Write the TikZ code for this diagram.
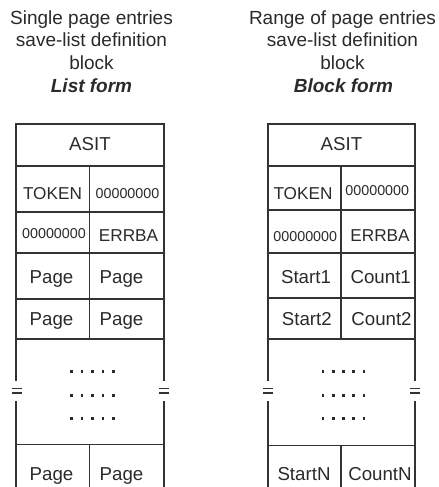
\documentclass[tikz,border=0pt]{standalone}
\usepackage{fontspec}
\setmainfont{Liberation Sans}
\definecolor{ink}{HTML}{2A2A2A}
\definecolor{rule}{HTML}{333333}
\begin{document}
\begin{tikzpicture}[x=1bp,y=-1bp,
  grid/.style={draw=rule, line width=1.9bp, line join=miter},
  brk/.style={draw=rule, line width=1.6bp},
  ttl/.style={anchor=base, inner sep=0pt, text=ink, font=\fontsize{19bp}{22bp}\selectfont},
  lbl/.style={anchor=base, inner sep=0pt, text=ink, font=\fontsize{18.7bp}{22bp}\selectfont},
  mid/.style={anchor=base, inner sep=0pt, text=ink, font=\fontsize{17.2bp}{20bp}\selectfont},
  zer/.style={anchor=base, inner sep=0pt, text=ink, font=\fontsize{14.3bp}{17bp}\selectfont}]
\useasboundingbox (0,0) rectangle (439,487);

% ---------- titles ----------
\node[ttl] (l1) at (91.5,24.5) {Single page entries};
\node[ttl] (l2) at (91.5,47) {save-list definition};
\node[ttl] (l3) at (91.5,69.5) {block};
\node[ttl] (l4) at (91.5,92.5) {\bfseries\itshape List form};
\node[ttl] (r1) at (342.5,24.5) {Range of page entries};
\node[ttl] (r2) at (342.5,47) {save-list definition};
\node[ttl] (r3) at (342.5,69.5) {block};
\node[ttl] (r4) at (343.5,92.5) {\bfseries\itshape Block form};

% ---------- left table ----------
\draw[grid] (16,381) -- (16,124) -- (164,124) -- (164,381);
\draw[grid] (16,401) -- (16,487);
\draw[grid] (164,401) -- (164,487);
\foreach \y in {166,212,253,299,339,444.5} \draw[grid] (16,\y) -- (164,\y);
\draw[grid] (89.5,166) -- (89.5,339);
\draw[grid] (89.5,444.5) -- (89.5,487);
\foreach \x in {16.5,163.5} {
  \draw[brk] (\x-5,388.5) -- (\x+5,388.5);
  \draw[brk] (\x-5,393) -- (\x+5,393);
}
\node[lbl] (la) at (90,151) {ASIT};
\node[mid] (lt) at (52.5,199.3) {TOKEN};
\node[zer] (lz1) at (127.5,198.3) {00000000};
\node[zer] (lz2) at (54,238.5) {00000000};
\node[mid] (le) at (128.5,241) {ERRBA};
\node[lbl] (lp1) at (51.5,283.3) {Page};
\node[lbl] (lp2) at (121.5,283.3) {Page};
\node[lbl] (lp3) at (51.5,325) {Page};
\node[lbl] (lp4) at (121.5,325) {Page};
\node[lbl] (lp5) at (51.5,480) {Page};
\node[lbl] (lp6) at (121.5,480) {Page};
\foreach \r in {371.7,395.7,418.3}
  \foreach \k in {0,...,4}
    \fill[ink] ({71.3+10.6*\k-1.3},{\r-1.3}) rectangle ({71.3+10.6*\k+1.3},{\r+1.3});

% ---------- right table ----------
\draw[grid] (268,381) -- (268,124) -- (415,124) -- (415,381);
\draw[grid] (268,401) -- (268,487);
\draw[grid] (415,401) -- (415,487);
\foreach \y in {166,210,253,298,339,445.5} \draw[grid] (268,\y) -- (415,\y);
\draw[grid] (341,166) -- (341,339);
\draw[grid] (341,445.5) -- (341,487);
\foreach \x in {268,414.5} {
  \draw[brk] (\x-5,388.5) -- (\x+5,388.5);
  \draw[brk] (\x-5,393) -- (\x+5,393);
}
\node[lbl] (ra) at (341.5,151) {ASIT};
\node[mid] (rt) at (303,199.3) {TOKEN};
\node[zer] (rz1) at (377.3,195) {00000000};
\node[zer] (rz2) at (305.3,241) {00000000};
\node[mid] (re) at (380,241) {ERRBA};
\node[lbl] (rs1) at (306,283.3) {Start1};
\node[lbl] (rc1) at (380.7,283.3) {Count1};
\node[lbl] (rs2) at (306.8,325) {Start2};
\node[lbl] (rc2) at (381.5,325) {Count2};
\node[lbl] (rsn) at (304,480) {StartN};
\node[lbl] (rcn) at (380,480) {CountN};
\foreach \r in {371.7,395.7,418.3}
  \foreach \k in {0,...,4}
    \fill[ink] ({323+10.2*\k-1.3},{\r-1.3}) rectangle ({323+10.2*\k+1.3},{\r+1.3});
\end{tikzpicture}
\end{document}
